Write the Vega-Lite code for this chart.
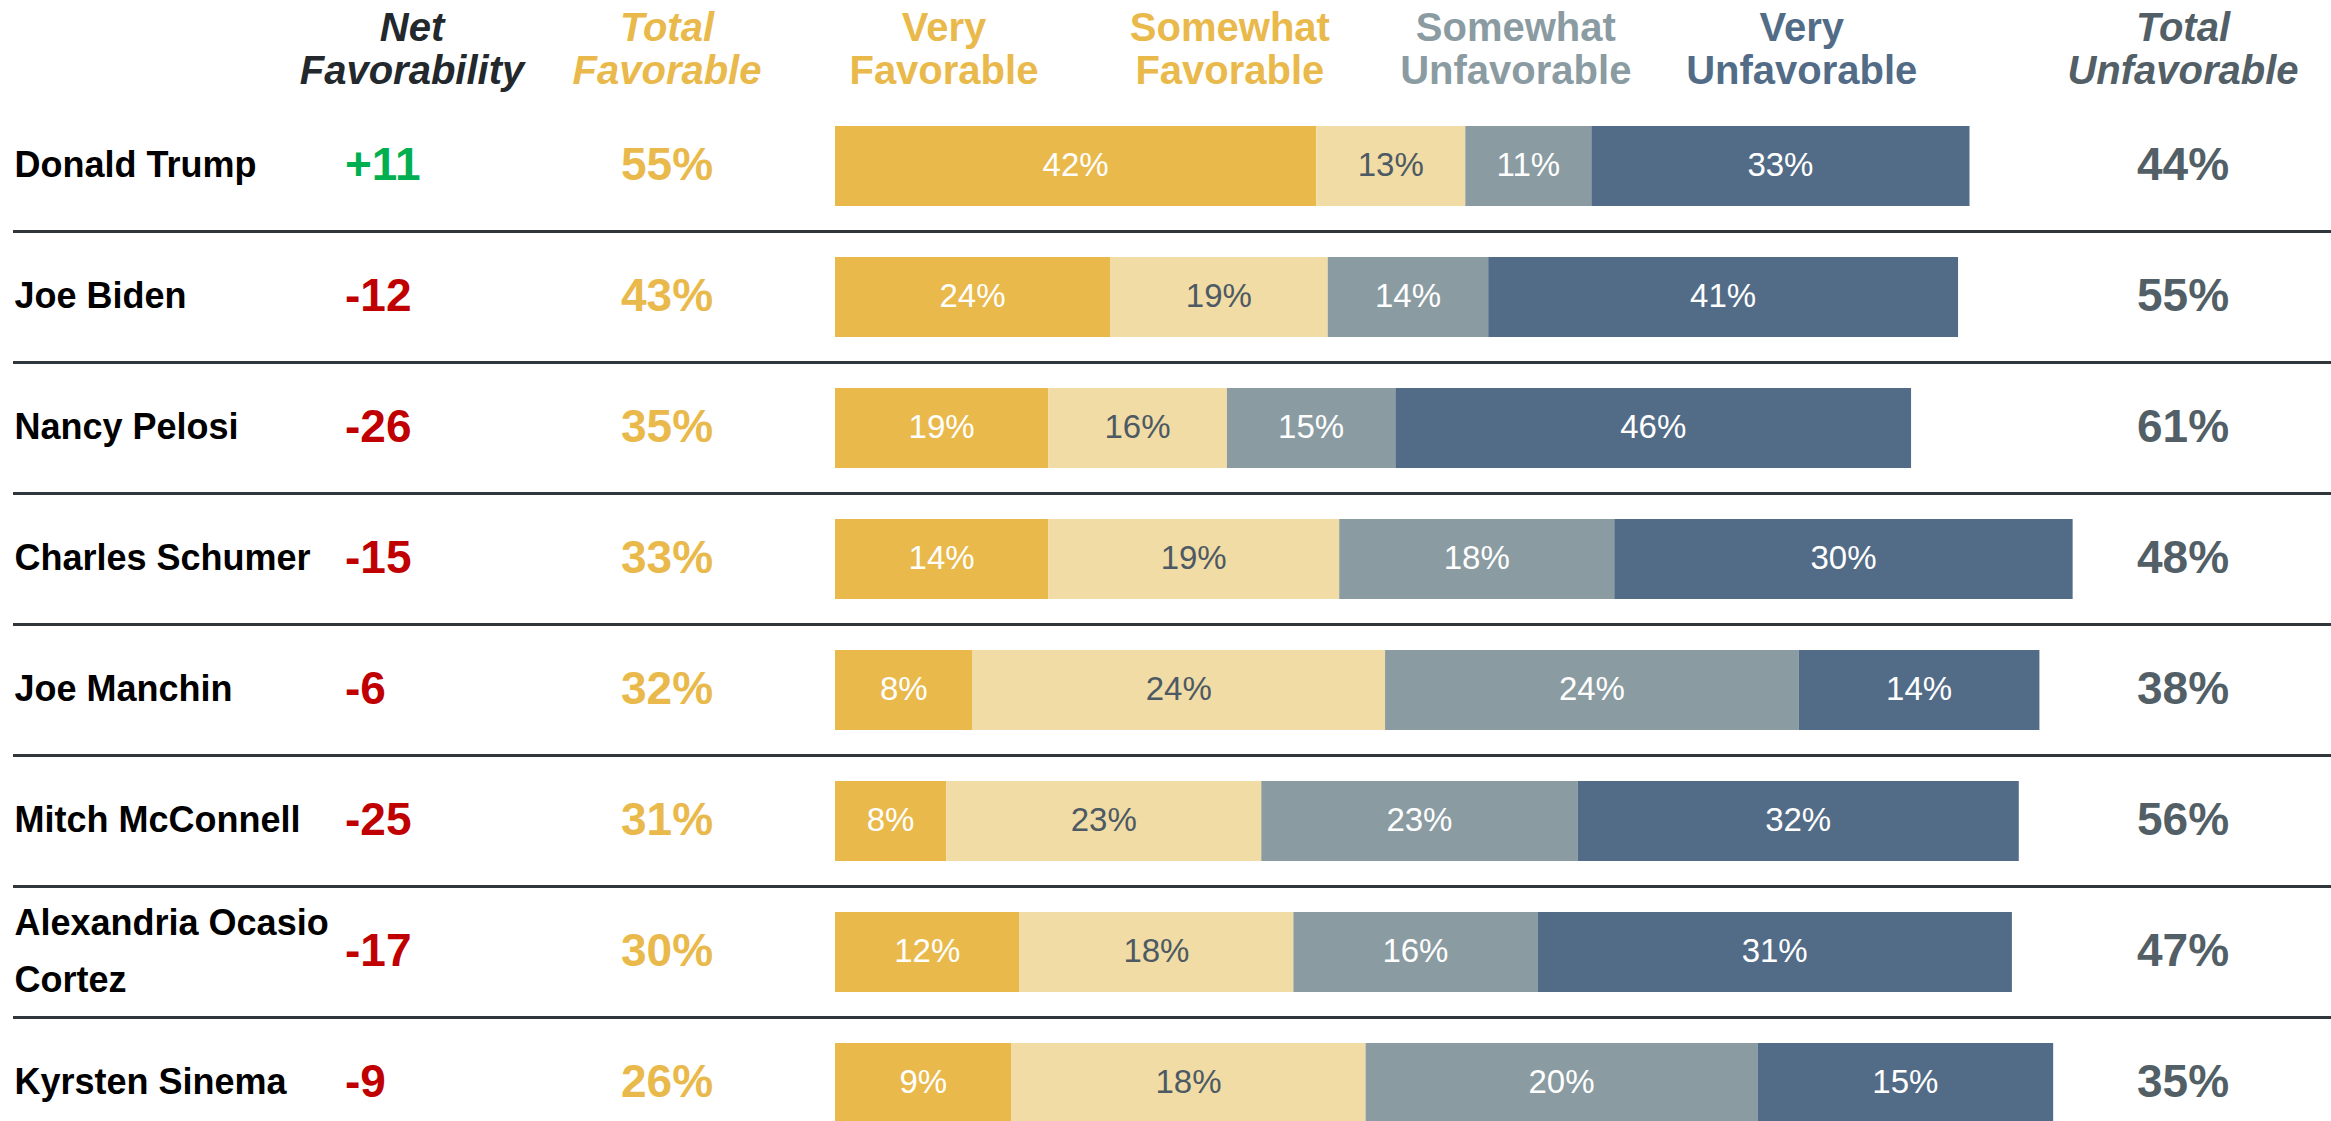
{
  "$schema": "https://vega.github.io/schema/vega-lite/v6.json",
  "padding": {"left": 11, "top": 0, "right": 0, "bottom": 0},
  "spacing": 0,
  "bounds": "flush",
  "config": {"view": {"stroke": null}, "font": "Liberation Sans", "text": {"font": "Liberation Sans"}},
  "datasets": {
    "people": [
      {"row": 1, "name": "Donald Trump", "net": 11, "netText": "+11", "fav": 0.55, "unfav": 0.44},
      {"row": 2, "name": "Joe Biden", "net": -12, "netText": "-12", "fav": 0.43, "unfav": 0.55},
      {"row": 3, "name": "Nancy Pelosi", "net": -26, "netText": "-26", "fav": 0.35, "unfav": 0.61},
      {"row": 4, "name": "Charles Schumer", "net": -15, "netText": "-15", "fav": 0.33, "unfav": 0.48},
      {"row": 5, "name": "Joe Manchin", "net": -6, "netText": "-6", "fav": 0.32, "unfav": 0.38},
      {"row": 6, "name": "Mitch McConnell", "net": -25, "netText": "-25", "fav": 0.31, "unfav": 0.56},
      {"row": 7, "name": "Alexandria Ocasio\nCortez", "net": -17, "netText": "-17", "fav": 0.30, "unfav": 0.47},
      {"row": 8, "name": "Kyrsten Sinema", "net": -9, "netText": "-9", "fav": 0.26, "unfav": 0.35}
    ],
    "segments": [
      {"row": 1, "cat": "Very Favorable", "k": 1, "pct": 0.42, "len": 42},
      {"row": 1, "cat": "Somewhat Favorable", "k": 2, "pct": 0.13, "len": 13},
      {"row": 1, "cat": "Somewhat Unfavorable", "k": 3, "pct": 0.11, "len": 11},
      {"row": 1, "cat": "Very Unfavorable", "k": 4, "pct": 0.33, "len": 33},
      {"row": 2, "cat": "Very Favorable", "k": 1, "pct": 0.24, "len": 24},
      {"row": 2, "cat": "Somewhat Favorable", "k": 2, "pct": 0.19, "len": 19},
      {"row": 2, "cat": "Somewhat Unfavorable", "k": 3, "pct": 0.14, "len": 14},
      {"row": 2, "cat": "Very Unfavorable", "k": 4, "pct": 0.41, "len": 41},
      {"row": 3, "cat": "Very Favorable", "k": 1, "pct": 0.19, "len": 18.6},
      {"row": 3, "cat": "Somewhat Favorable", "k": 2, "pct": 0.16, "len": 15.6},
      {"row": 3, "cat": "Somewhat Unfavorable", "k": 3, "pct": 0.15, "len": 14.7},
      {"row": 3, "cat": "Very Unfavorable", "k": 4, "pct": 0.46, "len": 45.0},
      {"row": 4, "cat": "Very Favorable", "k": 1, "pct": 0.14, "len": 18.6},
      {"row": 4, "cat": "Somewhat Favorable", "k": 2, "pct": 0.19, "len": 25.4},
      {"row": 4, "cat": "Somewhat Unfavorable", "k": 3, "pct": 0.18, "len": 24.0},
      {"row": 4, "cat": "Very Unfavorable", "k": 4, "pct": 0.30, "len": 40.0},
      {"row": 5, "cat": "Very Favorable", "k": 1, "pct": 0.08, "len": 12.0},
      {"row": 5, "cat": "Somewhat Favorable", "k": 2, "pct": 0.24, "len": 36.0},
      {"row": 5, "cat": "Somewhat Unfavorable", "k": 3, "pct": 0.24, "len": 36.1},
      {"row": 5, "cat": "Very Unfavorable", "k": 4, "pct": 0.14, "len": 21.0},
      {"row": 6, "cat": "Very Favorable", "k": 1, "pct": 0.08, "len": 9.7},
      {"row": 6, "cat": "Somewhat Favorable", "k": 2, "pct": 0.23, "len": 27.5},
      {"row": 6, "cat": "Somewhat Unfavorable", "k": 3, "pct": 0.23, "len": 27.6},
      {"row": 6, "cat": "Very Unfavorable", "k": 4, "pct": 0.32, "len": 38.5},
      {"row": 7, "cat": "Very Favorable", "k": 1, "pct": 0.12, "len": 16.1},
      {"row": 7, "cat": "Somewhat Favorable", "k": 2, "pct": 0.18, "len": 23.9},
      {"row": 7, "cat": "Somewhat Unfavorable", "k": 3, "pct": 0.16, "len": 21.3},
      {"row": 7, "cat": "Very Unfavorable", "k": 4, "pct": 0.31, "len": 41.4},
      {"row": 8, "cat": "Very Favorable", "k": 1, "pct": 0.09, "len": 15.4},
      {"row": 8, "cat": "Somewhat Favorable", "k": 2, "pct": 0.18, "len": 30.9},
      {"row": 8, "cat": "Somewhat Unfavorable", "k": 3, "pct": 0.20, "len": 34.2},
      {"row": 8, "cat": "Very Unfavorable", "k": 4, "pct": 0.15, "len": 25.8}
    ],
    "columns": [
      {"cat": "Very Favorable"},
      {"cat": "Somewhat Favorable"},
      {"cat": "Somewhat Unfavorable"},
      {"cat": "Very Unfavorable"}
    ],
    "headers": [
      {"col": "net", "h": "Net Favorability"},
      {"col": "fav", "h": "Total Favorable"},
      {"col": "unfav", "h": "Total Unfavorable"}
    ],
    "seps": [{"b": 1.5}, {"b": 2.5}, {"b": 3.5}, {"b": 4.5}, {"b": 5.5}, {"b": 6.5}, {"b": 7.5}]
  },
  "hconcat": [
    {
      "width": 289, "height": 1121,
      "layer": [
        {"data": {"name": "seps"}, "mark": {"type": "rule", "color": "#2F373C", "strokeWidth": 3},
         "encoding": {"y": {"field": "b", "type": "quantitative", "scale": {"domain": [-0.267, 8.29], "reverse": true, "nice": false, "zero": false, "padding": 0}, "axis": null}}},
        {"data": {"name": "people"}, "transform": [{"filter": "indexof(datum.name, '\\n') < 0"}],
         "mark": {"type": "text", "align": "left", "dx": -143, "fontSize": 36, "fontWeight": "bold", "color": "#000000"},
         "encoding": {"y": {"field": "row", "type": "quantitative", "scale": {"domain": [-0.267, 8.29], "reverse": true, "nice": false, "zero": false, "padding": 0}, "axis": null},
                      "text": {"field": "name", "type": "nominal"}}},
        {"data": {"name": "people"}, "transform": [{"filter": "indexof(datum.name, '\\n') >= 0"}],
         "mark": {"type": "text", "align": "left", "dx": -143, "dy": -28, "fontSize": 36, "fontWeight": "bold", "color": "#000000", "lineBreak": "\n", "lineHeight": 57},
         "encoding": {"y": {"field": "row", "type": "quantitative", "scale": {"domain": [-0.267, 8.29], "reverse": true, "nice": false, "zero": false, "padding": 0}, "axis": null},
                      "text": {"field": "name", "type": "nominal"}}}
      ]
    },
    {
      "width": 220, "height": 1121,
      "layer": [
        {"data": {"name": "seps"}, "mark": {"type": "rule", "color": "#2F373C", "strokeWidth": 3},
         "encoding": {"y": {"field": "b", "type": "quantitative", "scale": {"domain": [-0.267, 8.29], "reverse": true, "nice": false, "zero": false, "padding": 0}, "axis": null}}},
        {"data": {"name": "headers"}, "transform": [{"filter": "datum.col === 'net'"}],
         "mark": {"type": "text", "fontSize": 40, "fontWeight": "bold", "fontStyle": "italic", "color": "#22282C", "lineBreak": " ", "lineHeight": 43, "dy": -5.5},
         "encoding": {"y": {"datum": 0, "type": "quantitative", "scale": {"domain": [-0.267, 8.29], "reverse": true, "nice": false, "zero": false, "padding": 0}, "axis": null},
                      "text": {"field": "h", "type": "nominal"}}},
        {"data": {"name": "people"}, "mark": {"type": "text", "align": "left", "dx": -67, "fontSize": 46, "fontWeight": "bold"},
         "encoding": {"y": {"field": "row", "type": "quantitative", "scale": {"domain": [-0.267, 8.29], "reverse": true, "nice": false, "zero": false, "padding": 0}, "axis": null},
                      "text": {"field": "netText", "type": "nominal"},
                      "color": {"condition": {"test": "datum.net > 0", "value": "#00B050"}, "value": "#C00000"}}}
      ]
    },
    {
      "width": 290, "height": 1121,
      "layer": [
        {"data": {"name": "seps"}, "mark": {"type": "rule", "color": "#2F373C", "strokeWidth": 3},
         "encoding": {"y": {"field": "b", "type": "quantitative", "scale": {"domain": [-0.267, 8.29], "reverse": true, "nice": false, "zero": false, "padding": 0}, "axis": null}}},
        {"data": {"name": "headers"}, "transform": [{"filter": "datum.col === 'fav'"}],
         "mark": {"type": "text", "fontSize": 40, "fontWeight": "bold", "fontStyle": "italic", "color": "#E9B94C", "lineBreak": " ", "lineHeight": 43, "dy": -5.5},
         "encoding": {"y": {"datum": 0, "type": "quantitative", "scale": {"domain": [-0.267, 8.29], "reverse": true, "nice": false, "zero": false, "padding": 0}, "axis": null},
                      "text": {"field": "h", "type": "nominal"}}},
        {"data": {"name": "people"}, "mark": {"type": "text", "fontSize": 46, "fontWeight": "bold", "color": "#E9B94C"},
         "encoding": {"y": {"field": "row", "type": "quantitative", "scale": {"domain": [-0.267, 8.29], "reverse": true, "nice": false, "zero": false, "padding": 0}, "axis": null},
                      "text": {"field": "fav", "type": "quantitative", "format": ".0%"}}}
      ]
    },
    {
      "width": 1265, "height": 1121,
      "resolve": {"scale": {"x": "independent"}},
      "layer": [
        {"data": {"name": "seps"}, "mark": {"type": "rule", "color": "#2F373C", "strokeWidth": 3},
         "encoding": {"y": {"field": "b", "type": "quantitative", "scale": {"domain": [-0.267, 8.29], "reverse": true, "nice": false, "zero": false, "padding": 0}, "axis": null}}},
        {"data": {"name": "segments"}, "mark": {"type": "bar", "orient": "horizontal"},
         "encoding": {"y": {"field": "row", "type": "quantitative", "scale": {"domain": [-0.267, 8.29], "reverse": true, "nice": false, "zero": false, "padding": 0}, "axis": null},
                      "x": {"field": "len", "type": "quantitative", "stack": "zero", "scale": {"domain": [-2.007, 108.38], "nice": false, "zero": false}, "axis": null},
                      "color": {"field": "cat", "type": "nominal", "scale": {"domain": ["Very Favorable", "Somewhat Favorable", "Somewhat Unfavorable", "Very Unfavorable"], "range": ["#E9B94C", "#F2DCA6", "#8A9BA2", "#526C87"]}, "legend": null},
                      "order": {"field": "k", "type": "quantitative"},
                      "size": {"value": 80}}},
        {"data": {"name": "segments"}, "mark": {"type": "text", "fontSize": 33},
         "encoding": {"y": {"field": "row", "type": "quantitative", "scale": {"domain": [-0.267, 8.29], "reverse": true, "nice": false, "zero": false, "padding": 0}, "axis": null},
                      "x": {"field": "len", "type": "quantitative", "stack": "zero", "bandPosition": 0.5, "scale": {"domain": [-2.007, 108.38], "nice": false, "zero": false}, "axis": null},
                      "detail": {"field": "cat", "type": "nominal"},
                      "order": {"field": "k", "type": "quantitative"},
                      "text": {"field": "pct", "type": "quantitative", "format": ".0%"},
                      "color": {"condition": {"test": "datum.cat === 'Somewhat Favorable'", "value": "#4D5A63"}, "value": "#FFFFFF"}}},
        {"data": {"name": "columns"}, "mark": {"type": "text", "fontSize": 40, "fontWeight": "bold", "lineBreak": " ", "lineHeight": 43, "dy": -5.5},
         "encoding": {"y": {"datum": 0, "type": "quantitative", "scale": {"domain": [-0.267, 8.29], "reverse": true, "nice": false, "zero": false, "padding": 0}, "axis": null},
                      "x": {"field": "cat", "type": "nominal", "scale": {"type": "point", "domain": ["Very Favorable", "Somewhat Favorable", "Somewhat Unfavorable", "Very Unfavorable"], "padding": 0.712, "align": 0.324}, "axis": null},
                      "text": {"field": "cat", "type": "nominal"},
                      "color": {"condition": [{"test": "indexof(datum.cat, 'Unfav') < 0", "value": "#E9B94C"}, {"test": "datum.cat === 'Somewhat Unfavorable'", "value": "#8A9BA2"}], "value": "#526C87"}}}
      ]
    },
    {
      "width": 256, "height": 1121,
      "layer": [
        {"data": {"name": "seps"}, "mark": {"type": "rule", "color": "#2F373C", "strokeWidth": 3},
         "encoding": {"y": {"field": "b", "type": "quantitative", "scale": {"domain": [-0.267, 8.29], "reverse": true, "nice": false, "zero": false, "padding": 0}, "axis": null}}},
        {"data": {"name": "headers"}, "transform": [{"filter": "datum.col === 'unfav'"}],
         "mark": {"type": "text", "fontSize": 40, "fontWeight": "bold", "fontStyle": "italic", "color": "#525F66", "lineBreak": " ", "lineHeight": 43, "dy": -5.5, "dx": -22},
         "encoding": {"y": {"datum": 0, "type": "quantitative", "scale": {"domain": [-0.267, 8.29], "reverse": true, "nice": false, "zero": false, "padding": 0}, "axis": null},
                      "text": {"field": "h", "type": "nominal"}}},
        {"data": {"name": "people"}, "mark": {"type": "text", "fontSize": 46, "fontWeight": "bold", "color": "#525F66", "dx": -22},
         "encoding": {"y": {"field": "row", "type": "quantitative", "scale": {"domain": [-0.267, 8.29], "reverse": true, "nice": false, "zero": false, "padding": 0}, "axis": null},
                      "text": {"field": "unfav", "type": "quantitative", "format": ".0%"}}}
      ]
    }
  ]
}
